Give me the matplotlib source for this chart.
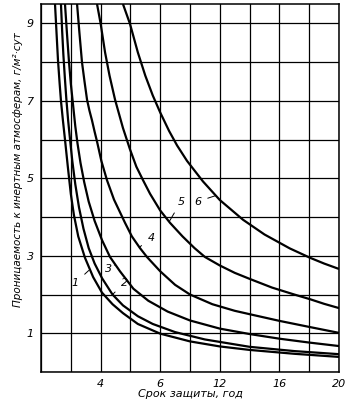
import matplotlib
matplotlib.use('Agg')
from matplotlib import pyplot as plt

# curves 1..6
x1 = [0.94, 1.05, 1.14, 1.25, 1.34, 1.47, 1.61, 1.8, 2.0, 2.21, 2.5, 2.95, 3.5, 4.09, 4.8, 5.5, 6.5, 8.0, 10, 12, 14, 17, 20]
y1 = [9.5, 8.7, 8.05, 7.45, 7.0, 6.5, 6.0, 5.3, 4.6, 4.05, 3.5, 2.95, 2.45, 2.05, 1.75, 1.52, 1.24, 0.99, 0.79, 0.66, 0.57, 0.47, 0.39]

x2 = [1.34, 1.42, 1.5, 1.6, 1.7, 1.82, 1.95, 2.1, 2.3, 2.55, 2.85, 3.2, 3.6, 4.1, 4.8, 5.5, 6.5, 7.5, 9, 11, 14, 17, 20]
y2 = [9.5, 8.8, 8.2, 7.6, 7.05, 6.5, 6.0, 5.45, 4.85, 4.25, 3.7, 3.2, 2.8, 2.42, 2.0, 1.72, 1.44, 1.24, 1.03, 0.84, 0.65, 0.54, 0.46]

x3 = [1.61, 1.75, 1.88, 2.0, 2.15, 2.3, 2.45, 2.65, 2.9, 3.2, 3.6, 4.1, 4.63, 5.3, 6.2, 7.2, 8.5, 10, 12, 14, 16, 18, 20]
y3 = [9.5, 8.7, 8.0, 7.45, 6.9, 6.35, 5.9, 5.4, 4.9, 4.4, 3.9, 3.4, 2.97, 2.6, 2.15, 1.84, 1.56, 1.33, 1.12, 0.98, 0.86, 0.76, 0.67]

x4 = [2.42, 2.58, 2.75, 2.92, 3.09, 3.25, 3.42, 3.6, 3.76, 4.05, 4.43, 4.9, 5.64, 6.1, 6.64, 7.11, 8.0, 9.0, 10, 11.5, 13, 14.03, 16, 18.05, 20]
y4 = [9.5, 8.75, 8.0, 7.5, 7.03, 6.75, 6.5, 6.2, 5.95, 5.45, 4.95, 4.45, 3.85, 3.5, 3.2, 2.97, 2.6, 2.25, 2.0, 1.75, 1.58, 1.49, 1.32, 1.16, 1.01]

x5 = [3.76, 4.0, 4.3, 4.6, 4.97, 5.5, 5.97, 6.4, 6.85, 7.32, 8.0, 8.66, 9.5, 10.3, 11.0, 12.0, 13, 14.03, 15.5, 17, 18.05, 19, 20]
y5 = [9.5, 9.0, 8.25, 7.65, 7.03, 6.3, 5.75, 5.3, 4.95, 4.6, 4.17, 3.85, 3.5, 3.2, 2.97, 2.75, 2.56, 2.4, 2.18, 2.0, 1.88, 1.76, 1.65]

x6 = [5.5, 5.97, 6.5, 7.0, 7.5, 8.0, 8.6, 9.13, 9.8, 10.87, 12.0, 13.56, 15, 16.7, 18.05, 19, 20]
y6 = [9.5, 8.99, 8.25, 7.65, 7.14, 6.7, 6.22, 5.85, 5.45, 4.92, 4.44, 3.93, 3.55, 3.19, 2.95, 2.8, 2.66]

curves = [(x1, y1), (x2, y2), (x3, y3), (x4, y4), (x5, y5), (x6, y6)]

# curve number labels: text position, end of leader on the curve
labels = ['1', '2', '3', '4', '5', '6']
label_xy = [(2.3, 2.3), (5.6, 2.3), (4.5, 2.65), (7.4, 3.45), (9.4, 4.4), (10.5, 4.4)]
leader_xy = [(3.2, 2.62), (4.8, 2.0), (5.0, 2.78), (6.6, 3.22), (8.6, 3.88), (11.7, 4.55)]

xticks = [0, 2, 4, 6, 8, 10, 12, 14, 16, 18, 20]
xticklabels = ['', '', '4', '', '6', '', '12', '', '16', '', '20']
yticks = [0, 1, 2, 3, 4, 5, 6, 7, 8, 9]
yticklabels = ['', '1', '', '3', '', '5', '', '7', '', '9']

plt.rcParams['font.family'] = ['DejaVu Sans']
plt.rcParams['font.style'] = 'italic'

fig = plt.figure(figsize=(3.53, 4.01), dpi=100)
ax = fig.add_axes([41/353, 1 - 372/401, 298/353, 368/401])

for x, y in curves:
	ax.plot(x, y, color='black', lw=1.6, solid_capstyle='butt')

for t, (tx, ty), (lx, ly) in zip(labels, label_xy, leader_xy):
	ax.annotate(t, xy=(lx, ly), xytext=(tx, ty), fontsize=8, ha='center', va='center',
		arrowprops=dict(arrowstyle='-', color='black', lw=0.7, shrinkA=3, shrinkB=0))

ax.set_xlim(0, 20)
ax.set_ylim(0, 9.5)
ax.set_xticks(xticks)
ax.set_xticklabels(xticklabels)
ax.set_yticks(yticks)
ax.set_yticklabels(yticklabels)
ax.tick_params(length=0, labelsize=8)
ax.tick_params(axis='x', pad=5)
ax.tick_params(axis='y', pad=5)
ax.grid(color='black', lw=0.9)
for s in ax.spines.values():
	s.set_linewidth(1.1)

ax.set_xlabel('Срок защиты, год', fontsize=8, labelpad=0)
fig.text(18/353, 1 - 170/401, 'Проницаемость к инертным атмосферам, г/м²·сут',
	rotation=90, ha='center', va='center', fontsize=7.5)

plt.savefig('out.png', dpi=100)
